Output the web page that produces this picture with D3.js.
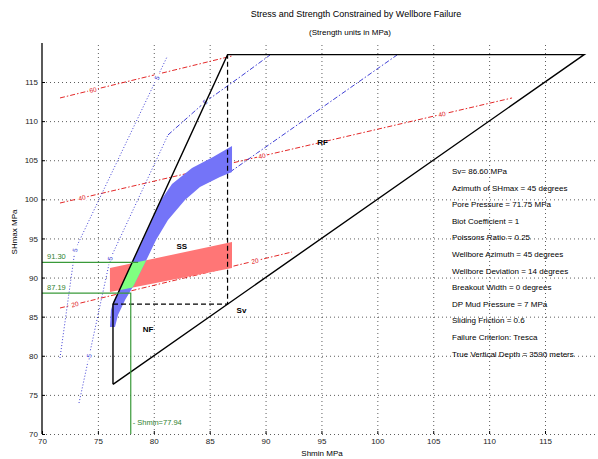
<!DOCTYPE html>
<html><head><meta charset="utf-8">
<script src="https://cdn.jsdelivr.net/npm/d3@7"></script>
<style>body{margin:0;background:#fff}svg{display:block;font-family:"Liberation Sans",Arial,Helvetica,sans-serif}</style>
</head><body><svg id="c" width="598" height="459"></svg>
<script>
// ---------- data (MPa) ----------
const xTicks=[70,75,80,85,90,95,100,105,110,115];
const yTicks=[70,75,80,85,90,95,100,105,110,115];
const shLow=76.35, sv=86.6, shTop=118.5;
const polygonOuter=[[shLow,shLow],[shLow,sv],[sv,shTop],[shTop,shTop],[shLow,shLow]];
const polygonInner=[[shLow,sv],[sv,sv],[sv,shTop]];
const redBand=[[76.08,91.22],[87.0,94.55],[87.0,91.22],[76.08,88.15]];
const blueBandLeft=[[76.08,83.68],[76.17,85.85],[76.44,87.13],[77.07,88.79],[77.96,91.61],[79.04,94.80],[79.84,97.36],[80.65,99.92],[81.63,101.96],[83.42,104.01],[85.30,105.41],[87.0,106.82]];
const blueBandRight=[[87.0,103.50],[85.92,102.86],[84.13,101.58],[82.79,99.92],[81.27,97.36],[80.20,94.80],[79.21,91.86],[78.23,89.05],[77.43,87.13],[76.80,85.21],[76.53,83.68]];
const redLines=[
  {label:"60",pts:[[71.61,112.96],[87.0,118.33]],at:[74.56]},
  {label:"40",pts:[[71.61,99.53],[112.05,112.96]],at:[73.58,89.68,105.78]},
  {label:"20",pts:[[71.61,86.11],[92.37,93.27]],at:[72.95,89.05]}
];
const blueDotted=[
  {label:"5",pts:[[71.61,79.72],[72.95,93.52],[81.18,118.2]],at:[72.95,80.29]},
  {label:"-5",pts:[[73.31,73.96],[76.08,92.3],[81.27,108.23]],at:[74.2,76.08]}
];
const blueDashDot=[
  {label:"5",pts:[[81.27,108.23],[84.58,112.44],[87.71,115.64],[90.4,118.45]],at:[84.58]},
  {label:"",pts:[[86.82,103.49],[101.76,118.45]],at:[]}
];
const shmaxUpper=91.95, shmaxLower=88.0, shminVal=77.94, upperEndSh=78.6;
const shmaxUpperText="91.30", shmaxLowerText="87.19", shminText="- Shmin=77.94";
const regionLabels=[{t:"NF",p:[79.5,83.0]},{t:"SS",p:[82.5,93.6]},{t:"RF",p:[95.1,106.9]}];
const infoLines=["Sv= 86.60 MPa","Azimuth of SHmax = 45 degrees","Pore Pressure = 71.75 MPa","Biot Coefficient = 1","Poissons Ratio = 0.25","Wellbore Azimuth = 45 degrees","Wellbore Deviation = 14 degrees","Breakout Width = 0 degrees","DP Mud Pressure = 7 MPa","Sliding Friction = 0.6","Failure Criterion: Tresca","True Vertical Depth = 3590 meters"];
const titleText="Stress and Strength Constrained by Wellbore Failure";
const subtitleText="(Strength units in MPa)";

// ---------- drawing ----------
const svg=d3.select("#c");
svg.append("rect").attr("width",598).attr("height",459).attr("fill","#fff");
const x=d3.scaleLinear().domain([70,120]).range([42,600.9]);
const y=d3.scaleLinear().domain([70,120]).range([434,42.9]);
const line=d3.line().x(d=>x(d[0])).y(d=>y(d[1]));

// grid via axes
svg.append("g").attr("transform",`translate(0,${y(70)})`)
  .call(d3.axisBottom(x).tickValues(xTicks.slice(1)).tickSize(-(y(70)-y(120))).tickFormat(""))
  .call(g=>g.select(".domain").remove())
  .call(g=>g.selectAll("line").attr("stroke","#333").attr("stroke-width",0.8).attr("stroke-dasharray","1,3"));
svg.append("g").attr("transform",`translate(${x(70)},0)`)
  .call(d3.axisLeft(y).tickValues(yTicks).tickSize(-(x(120)-x(70))).tickFormat(""))
  .call(g=>g.select(".domain").remove())
  .call(g=>g.selectAll("line").attr("stroke","#333").attr("stroke-width",0.8).attr("stroke-dasharray","1,3"));

// contour lines
function interp(pts,sh){for(let i=0;i<pts.length-1;i++){const a=pts[i],b=pts[i+1];if(sh>=a[0]&&sh<=b[0]){const t=(sh-a[0])/(b[0]-a[0]);return {p:[sh,a[1]+t*(b[1]-a[1])],a,b};}}const a=pts[0],b=pts[1];return {p:[sh,a[1]],a,b};}
function drawContours(set,color,dash){
  set.forEach(c=>{
    svg.append("path").attr("d",line(c.pts)).attr("fill","none").attr("stroke",color).attr("stroke-width",0.9).attr("stroke-dasharray",dash);
  });
}
drawContours(redLines,"#e01010","5,2,1.5,2");
drawContours(blueDotted,"#2a2ad0","1,2");
drawContours(blueDashDot,"#2a2ad0","5,2,1.5,2");
function drawLabels(set,color){
  set.forEach(c=>c.at.forEach(sh=>{
    const r=interp(c.pts,sh);
    const px=x(r.p[0]),py=y(r.p[1]);
    const ang=Math.atan2(y(r.b[1])-y(r.a[1]),x(r.b[0])-x(r.a[0]))*180/Math.PI;
    const g=svg.append("g").attr("transform",`translate(${px},${py}) rotate(${ang})`);
    g.append("rect").attr("x",-5).attr("y",-3.5).attr("width",10).attr("height",7).attr("fill","#fff");
    g.append("text").attr("text-anchor","middle").attr("dy","0.35em").attr("font-size",6.5).attr("fill",color).text(c.label);
  }));
}
drawLabels(redLines,"#e01010");
drawLabels(blueDotted,"#2a2ad0");
drawLabels(blueDashDot,"#2a2ad0");

// bands
const bluePoly=blueBandLeft.concat(blueBandRight);
svg.append("path").attr("d",line(redBand)+"Z").attr("fill","#ff7676");
svg.append("path").attr("d",line(bluePoly)+"Z").attr("fill","#7474f8");
// green = intersection (Sutherland-Hodgman, red band is convex)
function clip(subject,clipPoly){
  let out=subject;
  const n=clipPoly.length;
  let area=0;for(let i=0;i<n;i++){const a=clipPoly[i],b=clipPoly[(i+1)%n];area+=a[0]*b[1]-b[0]*a[1];}
  const s=area>0?1:-1;
  const inside=(p,a,b)=>s*((b[0]-a[0])*(p[1]-a[1])-(b[1]-a[1])*(p[0]-a[0]))>=0;
  const inter=(p,q,a,b)=>{const A1=q[1]-p[1],B1=p[0]-q[0],C1=A1*p[0]+B1*p[1];const A2=b[1]-a[1],B2=a[0]-b[0],C2=A2*a[0]+B2*a[1];const det=A1*B2-A2*B1;return [(B2*C1-B1*C2)/det,(A1*C2-A2*C1)/det];};
  for(let i=0;i<n;i++){
    const a=clipPoly[i],b=clipPoly[(i+1)%n];const inp=out;out=[];
    for(let j=0;j<inp.length;j++){const P=inp[j],Q=inp[(j+1)%inp.length];
      const pi=inside(P,a,b),qi=inside(Q,a,b);
      if(pi){out.push(P);if(!qi)out.push(inter(P,Q,a,b));}else if(qi){out.push(inter(P,Q,a,b));}
    }
  }
  return out;
}
const greenPoly=clip(bluePoly,redBand);
svg.append("path").attr("d",line(greenPoly)+"Z").attr("fill","#80ff80");

// stress polygon
svg.append("path").attr("d",line(polygonOuter)).attr("fill","none").attr("stroke","#000").attr("stroke-width",1.4);
svg.append("path").attr("d",line(polygonInner)).attr("fill","none").attr("stroke","#000").attr("stroke-width",1.2).attr("stroke-dasharray","5,3");

// green constraint lines
const gc="#3a9a3a";
svg.append("path").attr("d",line([[70,shmaxUpper],[upperEndSh,shmaxUpper]])).attr("stroke",gc).attr("stroke-width",1.2).attr("fill","none");
svg.append("path").attr("d",line([[70,shmaxLower],[shminVal,shmaxLower],[shminVal,70]])).attr("stroke",gc).attr("stroke-width",1.2).attr("fill","none");
svg.append("text").attr("x",x(70)+5).attr("y",y(shmaxUpper)-3).attr("font-size",7.5).attr("fill","#2f7f2f").text(shmaxUpperText);
svg.append("text").attr("x",x(70)+5).attr("y",y(shmaxLower)-3).attr("font-size",7.5).attr("fill","#2f7f2f").text(shmaxLowerText);
svg.append("text").attr("x",x(shminVal)+2).attr("y",y(71.2)).attr("font-size",7.5).attr("fill","#2f7f2f").text(shminText);

// region labels
regionLabels.forEach(r=>svg.append("text").attr("x",x(r.p[0])).attr("y",y(r.p[1])).attr("text-anchor","middle").attr("font-size",8).attr("font-weight","bold").text(r.t));
svg.append("text").attr("x",x(sv)+9).attr("y",y(sv)+9).attr("font-size",8).attr("font-weight","bold").text("Sv");

// axes
svg.append("g").attr("transform",`translate(${x(70)},0)`)
  .call(d3.axisLeft(y).tickValues(yTicks).tickSizeInner(-3).tickSizeOuter(0).tickPadding(4))
  .call(g=>g.select(".domain").attr("d",`M0,${y(70)}V${y(120)}`).attr("stroke","#000").attr("stroke-width",1.3))
  .call(g=>g.selectAll("text").attr("font-size",8).attr("font-family","Liberation Sans, Arial").attr("fill","#222"));
svg.append("g").attr("transform",`translate(0,${y(70)})`)
  .call(d3.axisBottom(x).tickValues(xTicks).tickSizeInner(-3).tickSizeOuter(0).tickPadding(4))
  .call(g=>g.select(".domain").remove())
  .call(g=>g.selectAll("text").attr("font-size",8).attr("font-family","Liberation Sans, Arial").attr("fill","#222"));

// axis titles
svg.append("text").attr("x",322).attr("y",456).attr("text-anchor","middle").attr("font-size",8).text("Shmin MPa");
svg.append("text").attr("transform","translate(17,232) rotate(-90)").attr("text-anchor","middle").attr("font-size",8).text("SHmax MPa");
svg.append("text").attr("x",356).attr("y",17).attr("text-anchor","middle").attr("font-size",9).text(titleText);
svg.append("text").attr("x",350).attr("y",35).attr("text-anchor","middle").attr("font-size",8).text(subtitleText);

// info text
svg.append("g").selectAll("text").data(infoLines).join("text")
  .attr("x",452).attr("y",(d,i)=>174+i*16.6).attr("font-size",8).text(d=>d);
</script></body></html>
